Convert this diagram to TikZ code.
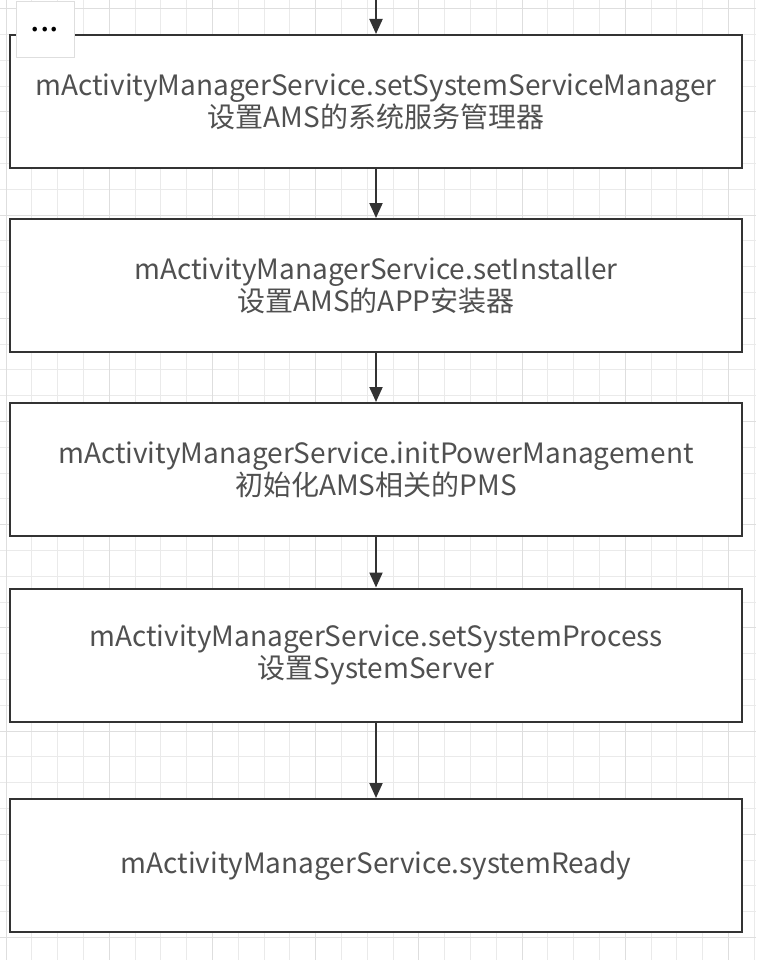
\documentclass[tikz,border=0pt]{standalone}
\usepackage{fontspec}
\setmainfont{Noto Sans CJK SC}
\usetikzlibrary{arrows.meta,shadows}
\definecolor{gridminor}{HTML}{EAEAEA}
\definecolor{gridmajor}{HTML}{DEDEDE}
\definecolor{edge}{HTML}{333333}
\definecolor{txt}{HTML}{505050}
\tikzset{
  stepbox/.style={draw=edge, line width=2pt, fill=white, minimum width=732pt, minimum height=133pt, inner sep=0pt, align=center, text=txt, font=\fontsize{28}{32}\selectfont},
  flow/.style={draw=edge, line width=2pt, -{Triangle[length=15pt,width=13pt]}},
  menubox/.style={draw=gridmajor, line width=0.8pt, fill=white, minimum width=58pt, minimum height=56pt, inner sep=0pt, text height=0pt, text depth=0pt, drop shadow={opacity=0.15, shadow xshift=1pt, shadow yshift=-1.5pt}, font=\fontsize{34}{34}\selectfont, text=black},
}
\begin{document}
\begin{tikzpicture}[x=1pt,y=-1pt]
\useasboundingbox (0,0) rectangle (756,960);
\fill[white] (0,0) rectangle (756,960);
% grid
\foreach \i in {0,...,29} {
  \pgfmathsetmacro{\gx}{6+25.8*\i}
  \draw[gridminor, line width=1pt] (\gx,0) -- (\gx,960);
}
\foreach \i in {0,...,37} {
  \pgfmathsetmacro{\gy}{8.7+25.8*\i}
  \draw[gridminor, line width=1pt] (0,\gy) -- (756,\gy);
}
\foreach \i in {0,4,...,28} {
  \pgfmathsetmacro{\gx}{6+25.8*\i}
  \draw[gridmajor, line width=1pt] (\gx,0) -- (\gx,960);
}
\foreach \i in {0,4,...,36} {
  \pgfmathsetmacro{\gy}{8.7+25.8*\i}
  \draw[gridmajor, line width=1pt] (0,\gy) -- (756,\gy);
}
% boxes
\node[stepbox] (b1) at (376,101.5) {mActivityManagerService.setSystemServiceManager\\设置AMS的系统服务管理器};
\node[stepbox] (b2) at (376,285.5) {mActivityManagerService.setInstaller\\设置AMS的APP安装器};
\node[stepbox] (b3) at (376,469.5) {mActivityManagerService.initPowerManagement\\初始化AMS相关的PMS};
\node[stepbox] (b4) at (376,655) {mActivityManagerService.setSystemProcess\\设置SystemServer};
\node[stepbox] (b5) at (376,865.5) {mActivityManagerService.systemReady};
% connectors
\coordinate (top) at (376,0);
\draw[flow] (top) -- (b1.north);
\draw[flow] (b1) -- (b2);
\draw[flow] (b2) -- (b3);
\draw[flow] (b3) -- (b4);
\draw[flow] (b4) -- (b5);
% menu button
\node[menubox] (menu) at (45,29) {\raisebox{-3pt}{...}};
\end{tikzpicture}
\end{document}
